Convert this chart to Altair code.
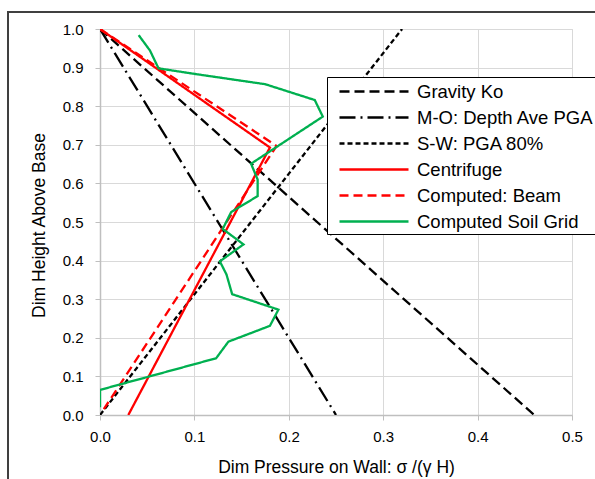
import altair as alt
import pandas as pd

# ---- data ----
series_names = ["Gravity Ko", "M-O: Depth Ave PGA", "S-W: PGA 80%",
                "Centrifuge", "Computed: Beam", "Computed Soil Grid"]

ko_x = [0.0, 0.46]
ko_y = [1.0, 0.0]

mo_x = [0.0, 0.25]
mo_y = [1.0, 0.0]

sw_x = [0.0, 0.32]
sw_y = [0.0, 1.0]

cf_x = [0.0, 0.180, 0.030]
cf_y = [1.0, 0.693, 0.0]

beam_x = [0.0, 0.187, 0.004]
beam_y = [1.0, 0.697, 0.015]

grid_x = [0.041, 0.053, 0.062, 0.102, 0.175, 0.2275, 0.236, 0.160, 0.167, 0.167,
          0.139, 0.130, 0.152, 0.127, 0.134, 0.140, 0.189, 0.180, 0.136, 0.123,
          0.0, 0.0]
grid_y = [0.984, 0.944, 0.898, 0.883, 0.857, 0.816, 0.773, 0.651, 0.610, 0.567,
          0.526, 0.482, 0.442, 0.398, 0.364, 0.313, 0.273, 0.231, 0.190, 0.147,
          0.065, 0.020]

x_ticks = [0.0, 0.1, 0.2, 0.3, 0.4, 0.5]
y_ticks = [0.0, 0.1, 0.2, 0.3, 0.4, 0.5, 0.6, 0.7, 0.8, 0.9, 1.0]

colors = ["#000000", "#000000", "#000000", "#FF0000", "#FF0000", "#00B050"]
dashes = [[10, 5], [16, 5, 2, 5], [5, 3], [1, 0], [9, 5], [1, 0]]
widths = [2.3, 2.3, 2.3, 2.8, 2.8, 2.8]

rows = []
for name, xs, ys in zip(series_names,
                        [ko_x, mo_x, sw_x, cf_x, beam_x, grid_x],
                        [ko_y, mo_y, sw_y, cf_y, beam_y, grid_y]):
    for i, (xv, yv) in enumerate(zip(xs, ys)):
        rows.append({"series": name, "x": xv, "y": yv, "idx": i})
df = pd.DataFrame(rows)

FONT = "Liberation Sans"

lines = alt.Chart(df).mark_line(clip=True).encode(
    x=alt.X("x:Q",
            scale=alt.Scale(domain=[0, 0.5], nice=False, zero=False),
            axis=alt.Axis(values=x_ticks, format=".1f", labelFlush=False,
                          title="Dim Pressure on Wall: σ /(γ H)")),
    y=alt.Y("y:Q",
            scale=alt.Scale(domain=[0, 1.0], nice=False, zero=False),
            axis=alt.Axis(values=y_ticks, format=".1f", labelFlush=False,
                          title="Dim Height Above Base",
                          titleX=-61, titleY=196, titleBaseline="middle",
                          titleAngle=270)),
    color=alt.Color("series:N",
                    scale=alt.Scale(domain=series_names, range=colors),
                    sort=series_names,
                    legend=alt.Legend(
                        title=None, orient="none", legendX=227, legendY=48,
                        symbolType="M-0.2,0H6.7", symbolSize=400,
                        symbolStrokeWidth=2.3,
                        labelFontSize=18.5, labelFont=FONT, labelColor="#000000",
                        labelExpr="datum.label + '  '",
                        labelOffset=64, rowPadding=5.0, padding=3,
                        fillColor="white", strokeColor="#000000",
                        labelLimit=400)),
    strokeDash=alt.StrokeDash("series:N",
                              scale=alt.Scale(domain=series_names, range=dashes),
                              sort=series_names),
    strokeWidth=alt.StrokeWidth("series:O",
                                scale=alt.Scale(domain=series_names, range=widths),
                                legend=None),
    order=alt.Order("idx:Q"),
)

frame = alt.Chart(df).mark_rect(fill=None, stroke="#404040", strokeWidth=1.3,
                                clip=False).encode(
    x=alt.value(-92), x2=alt.value(600), y=alt.value(-17), y2=alt.value(520)
)

chart = alt.layer(lines, frame).properties(
    width=472, height=386,
    padding={"left": 100, "top": 29, "right": 23, "bottom": 64},
    autosize=alt.AutoSizeParams(type="none"),
).configure_view(
    stroke="#d9d9d9", strokeWidth=1
).configure_axis(
    grid=True, gridColor="#d9d9d9", gridWidth=1,
    domainColor="#bfbfbf", domainWidth=1.5,
    tickColor="#bfbfbf", tickSize=5,
    labelFont=FONT, labelFontSize=15, labelColor="#000000",
    titleFont=FONT, titleFontSize=17.5, titleColor="#000000", titleFontWeight="normal",
).configure_axisX(
    labelPadding=9, titlePadding=14
).configure_axisY(
    labelPadding=12, titlePadding=3
)

chart.save("out.html", embed_options={"renderer": "svg", "actions": False})
